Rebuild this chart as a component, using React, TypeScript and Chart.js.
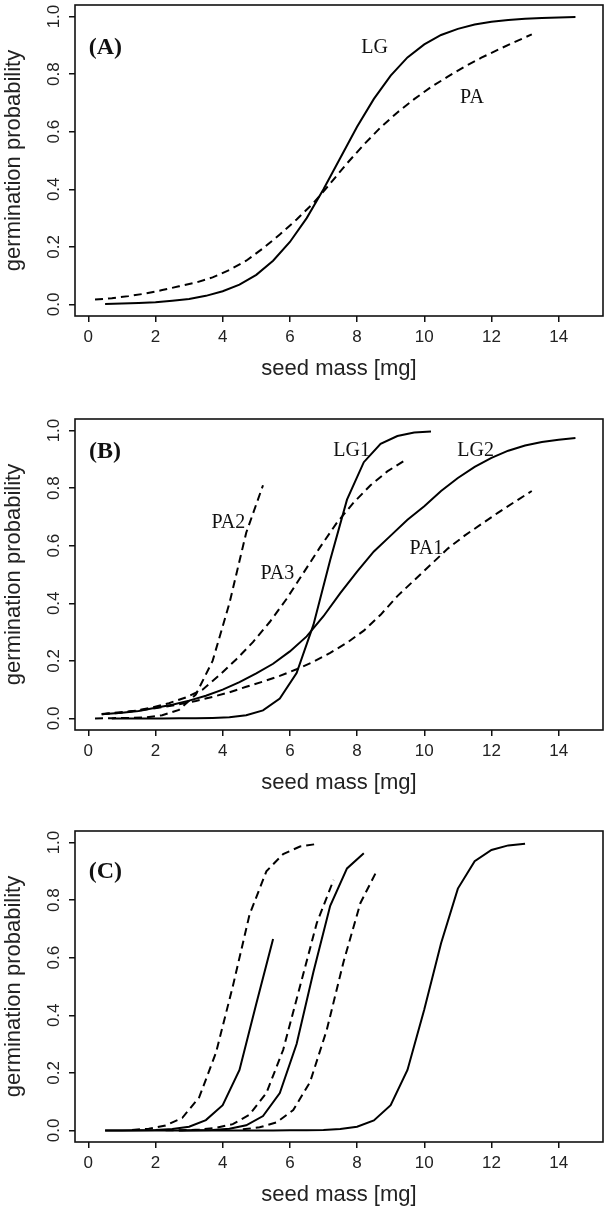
import React, { useEffect, useRef } from 'react';
import { Chart, registerables } from 'chart.js';

Chart.register(...registerables);

// ---------- axes ----------
const X_TICKS = [0, 2, 4, 6, 8, 10, 12, 14];
const Y_TICKS = [0, 0.2, 0.4, 0.6, 0.8, 1.0];
const X_MIN = -0.396;
const X_MAX = 15.32;
const Y_MIN = -0.04;
const Y_MAX = 1.04;
const X_TITLE = 'seed mass [mg]';
const Y_TITLE = 'germination probability';

// ---------- panel A ----------
const A_LG_X = [0.5, 1, 1.5, 2, 2.5, 3, 3.5, 4, 4.5, 5, 5.5, 6, 6.5, 7, 7.5, 8, 8.5, 9, 9.5, 10, 10.5, 11, 11.5, 12, 12.5, 13, 13.5, 14, 14.5];
const A_LG_Y = [0.002, 0.003, 0.005, 0.008, 0.013, 0.019, 0.03, 0.046, 0.069, 0.103, 0.152, 0.217, 0.3, 0.4, 0.509, 0.617, 0.714, 0.795, 0.858, 0.903, 0.936, 0.957, 0.972, 0.982, 0.988, 0.992, 0.995, 0.997, 0.998];
const A_PA_X = [0.2, 0.7, 1.2, 1.7, 2.2, 2.7, 3.2, 3.7, 4.2, 4.7, 5.2, 5.7, 6.2, 6.7, 7.2, 7.7, 8.2, 8.7, 9.2, 9.7, 10.2, 10.7, 11.2, 11.7, 12.2, 12.7, 13.2];
const A_PA_Y = [0.017, 0.022, 0.029, 0.038, 0.05, 0.063, 0.076, 0.094, 0.12, 0.152, 0.195, 0.243, 0.295, 0.352, 0.42, 0.49, 0.555, 0.615, 0.667, 0.713, 0.755, 0.791, 0.826, 0.857, 0.885, 0.912, 0.938];
const A_LABEL_TEXT = ['LG', 'PA'];
const A_LABEL_X = [8.52, 11.42];
const A_LABEL_Y = [0.892, 0.718];

// ---------- panel B ----------
const B_LG1_X = [0.7, 1.2, 1.7, 2.2, 2.7, 3.2, 3.7, 4.2, 4.7, 5.2, 5.7, 6.2, 6.7, 7.2, 7.7, 8.2, 8.7, 9.2, 9.7, 10.2];
const B_LG1_Y = [0, 0, 0, 0, 0.001, 0.001, 0.002, 0.004, 0.011, 0.028, 0.069, 0.158, 0.325, 0.55, 0.76, 0.89, 0.954, 0.981, 0.993, 0.997];
const B_LG2_X = [0.4, 1, 1.5, 2, 2.5, 3, 3.5, 4, 4.5, 5, 5.5, 6, 6.5, 7, 7.5, 8, 8.5, 9, 9.5, 10, 10.5, 11, 11.5, 12, 12.5, 13, 13.5, 14, 14.5];
const B_LG2_Y = [0.015, 0.02, 0.026, 0.037, 0.048, 0.062, 0.079, 0.1, 0.126, 0.157, 0.19, 0.233, 0.285, 0.355, 0.435, 0.51, 0.58, 0.635, 0.69, 0.737, 0.79, 0.835, 0.874, 0.905, 0.93, 0.948, 0.96, 0.968, 0.974];
const B_PA1_X = [0.4, 0.7, 1.2, 1.7, 2.2, 2.7, 3.2, 3.7, 4.2, 4.7, 5.2, 5.7, 6.2, 6.7, 7.2, 7.7, 8.2, 8.7, 9.2, 9.7, 10.2, 10.7, 11.2, 11.7, 12.2, 12.7, 13.2];
const B_PA1_Y = [0.016, 0.019, 0.024, 0.031, 0.039, 0.049, 0.061, 0.075, 0.091, 0.11, 0.128, 0.148, 0.171, 0.197, 0.228, 0.263, 0.305, 0.36, 0.425, 0.48, 0.535, 0.59, 0.635, 0.675, 0.715, 0.753, 0.79];
const B_PA2_X = [0.2, 0.7, 1.2, 1.7, 2.2, 2.7, 3.2, 3.7, 4.2, 4.7, 5.2];
const B_PA2_Y = [0, 0.001, 0.002, 0.004, 0.011, 0.03, 0.083, 0.2, 0.4, 0.645, 0.81];
const B_PA3_X = [0.4, 0.9, 1.4, 1.9, 2.4, 2.9, 3.4, 3.9, 4.4, 4.9, 5.4, 5.9, 6.4, 6.9, 7.4, 7.9, 8.4, 8.9, 9.4];
const B_PA3_Y = [0.015, 0.019, 0.027, 0.038, 0.053, 0.073, 0.1, 0.15, 0.205, 0.265, 0.335, 0.415, 0.505, 0.595, 0.68, 0.75, 0.81, 0.858, 0.895];
const B_LABEL_TEXT = ['PA2', 'PA3', 'LG1', 'LG2', 'PA1'];
const B_LABEL_X = [4.17, 5.63, 7.84, 11.53, 10.06];
const B_LABEL_Y = [0.678, 0.504, 0.93, 0.93, 0.591];

// ---------- panel C ----------
const C1_X = [1.3, 1.8, 2.3, 2.8, 3.3, 3.8, 4.3, 4.8, 5.3, 5.8, 6.3, 6.8];
const C1_Y = [0.002, 0.006, 0.017, 0.044, 0.115, 0.27, 0.5, 0.75, 0.9, 0.96, 0.986, 0.995];
const C2_X = [0.5, 1, 1.5, 2, 2.5, 3, 3.5, 4, 4.5, 5, 5.5];
const C2_Y = [0, 0, 0.001, 0.002, 0.005, 0.013, 0.036, 0.088, 0.21, 0.44, 0.665];
const C3_X = [2.3, 2.8, 3.3, 3.8, 4.3, 4.8, 5.3, 5.8, 6.3, 6.8, 7.3];
const C3_Y = [0.001, 0.001, 0.003, 0.009, 0.022, 0.055, 0.13, 0.28, 0.5, 0.72, 0.87];
const C4_X = [2.7, 3.2, 3.7, 4.2, 4.7, 5.2, 5.7, 6.2, 6.7, 7.2, 7.7, 8.2];
const C4_Y = [0, 0.001, 0.002, 0.006, 0.018, 0.05, 0.13, 0.3, 0.55, 0.78, 0.91, 0.963];
const C5_X = [4.6, 5.1, 5.6, 6.1, 6.6, 7.1, 7.6, 8.1, 8.6];
const C5_Y = [0.004, 0.011, 0.028, 0.071, 0.168, 0.35, 0.587, 0.79, 0.905];
const C6_X = [0.5, 1, 1.5, 2, 2.5, 3, 3.5, 4, 4.5, 5, 5.5, 6, 6.5, 7, 7.5, 8, 8.5, 9, 9.5, 10, 10.5, 11, 11.5, 12, 12.5, 13];
const C6_Y = [0, 0, 0, 0, 0, 0, 0, 0, 0, 0, 0, 0.001, 0.001, 0.002, 0.005, 0.013, 0.035, 0.088, 0.21, 0.42, 0.65, 0.84, 0.935, 0.974, 0.99, 0.996];

// ---------- panel tags ----------
const TAG_TEXT = ['(A)', '(B)', '(C)'];
const TAG_X = [0.51, 0.5, 0.51];
const TAG_Y = [0.891, 0.925, 0.897];

type Series = { x: number[]; y: number[]; dashed: boolean };
type Label = { text: string; x: number; y: number };

const SANS = '"Liberation Sans", Arial, Helvetica, sans-serif';
const SERIF = '"Liberation Serif", "Times New Roman", serif';
const INK = '#111';

function makeLabels(t: string[], xs: number[], ys: number[]): Label[] {
  return t.map((text, i) => ({ text, x: xs[i], y: ys[i] }));
}

const PANELS: { top: number; series: Series[]; labels: Label[]; tag: Label }[] = [
  {
    top: 0,
    series: [
      { x: A_LG_X, y: A_LG_Y, dashed: false },
      { x: A_PA_X, y: A_PA_Y, dashed: true },
    ],
    labels: makeLabels(A_LABEL_TEXT, A_LABEL_X, A_LABEL_Y),
    tag: { text: TAG_TEXT[0], x: TAG_X[0], y: TAG_Y[0] },
  },
  {
    top: 414,
    series: [
      { x: B_LG1_X, y: B_LG1_Y, dashed: false },
      { x: B_LG2_X, y: B_LG2_Y, dashed: false },
      { x: B_PA1_X, y: B_PA1_Y, dashed: true },
      { x: B_PA2_X, y: B_PA2_Y, dashed: true },
      { x: B_PA3_X, y: B_PA3_Y, dashed: true },
    ],
    labels: makeLabels(B_LABEL_TEXT, B_LABEL_X, B_LABEL_Y),
    tag: { text: TAG_TEXT[1], x: TAG_X[1], y: TAG_Y[1] },
  },
  {
    top: 826,
    series: [
      { x: C1_X, y: C1_Y, dashed: true },
      { x: C2_X, y: C2_Y, dashed: false },
      { x: C3_X, y: C3_Y, dashed: true },
      { x: C4_X, y: C4_Y, dashed: false },
      { x: C5_X, y: C5_Y, dashed: true },
      { x: C6_X, y: C6_Y, dashed: false },
    ],
    labels: [],
    tag: { text: TAG_TEXT[2], x: TAG_X[2], y: TAG_Y[2] },
  },
];

function overlayPlugin(labels: Label[], tag: Label) {
  return {
    id: 'overlay',
    afterDatasetsDraw(chart: any) {
      const { ctx, chartArea: a, scales } = chart;
      const xs = scales.x;
      const ys = scales.y;
      ctx.save();
      ctx.strokeStyle = INK;
      ctx.lineWidth = 1.6;
      ctx.strokeRect(a.left, a.top, a.right - a.left, a.bottom - a.top);
      ctx.fillStyle = INK;
      ctx.textAlign = 'center';
      ctx.textBaseline = 'middle';
      ctx.font = `bold 24px ${SERIF}`;
      ctx.fillText(tag.text, xs.getPixelForValue(tag.x), ys.getPixelForValue(tag.y));
      ctx.font = `20px ${SERIF}`;
      labels.forEach((l) => ctx.fillText(l.text, xs.getPixelForValue(l.x), ys.getPixelForValue(l.y)));
      ctx.restore();
    },
  };
}

function Panel({ top, series, labels, tag }: { top: number; series: Series[]; labels: Label[]; tag: Label }) {
  const ref = useRef<HTMLCanvasElement>(null);
  useEffect(() => {
    const chart = new Chart(ref.current as HTMLCanvasElement, {
      type: 'line',
      data: {
        datasets: series.map((s) => ({
          data: s.x.map((x, i) => ({ x, y: s.y[i] })),
          borderColor: '#000',
          borderWidth: 2,
          borderDash: s.dashed ? [8, 5] : [],
          pointRadius: 0,
          fill: false,
          tension: 0,
        })),
      },
      options: {
        responsive: false,
        animation: false,
        devicePixelRatio: 1,
        layout: { padding: { top: 5, right: 1, left: 0, bottom: 0 } },
        plugins: { legend: { display: false }, tooltip: { enabled: false } },
        scales: {
          x: {
            type: 'linear',
            min: X_MIN,
            max: X_MAX,
            afterBuildTicks: (s: any) => {
              s.ticks = X_TICKS.map((v) => ({ value: v }));
            },
            afterFit: (s: any) => {
              s.height = 66;
              s.paddingLeft = 0;
              s.paddingRight = 0;
            },
            grid: { drawOnChartArea: false, drawTicks: true, tickLength: 6, color: INK, lineWidth: 1.5 },
            border: { display: false },
            ticks: {
              autoSkip: false,
              maxRotation: 0,
              minRotation: 0,
              padding: 5,
              color: '#222',
              font: { family: SANS, size: 17 },
              callback: (v: any) => String(v),
            },
            title: {
              display: true,
              text: X_TITLE,
              color: '#222',
              font: { family: SANS, size: 22 },
              padding: { top: 0, bottom: 0 },
            },
          },
          y: {
            type: 'linear',
            min: Y_MIN,
            max: Y_MAX,
            afterBuildTicks: (s: any) => {
              s.ticks = Y_TICKS.map((v) => ({ value: v }));
            },
            afterFit: (s: any) => {
              s.width = 75;
              s.paddingTop = 0;
              s.paddingBottom = 0;
            },
            grid: { drawOnChartArea: false, drawTicks: true, tickLength: 6, color: INK, lineWidth: 1.5 },
            border: { display: false },
            ticks: {
              autoSkip: false,
              minRotation: 90,
              maxRotation: 90,
              crossAlign: 'center',
              padding: 3,
              color: '#222',
              font: { family: SANS, size: 17 },
              callback: (v: any) => Number(v).toFixed(1),
            },
            title: {
              display: true,
              text: Y_TITLE,
              color: '#222',
              font: { family: SANS, size: 22 },
              padding: { top: 1, bottom: 0 },
            },
          },
        },
      } as any,
      plugins: [overlayPlugin(labels, tag)],
    });
    return () => chart.destroy();
  }, []);
  return (
    <canvas
      ref={ref}
      width={604}
      height={382}
      style={{ position: 'absolute', left: 0, top, display: 'block', width: 604, height: 382 }}
    />
  );
}

export default function App() {
  return (
    <div style={{ position: 'absolute', left: 0, top: 0, width: 604, height: 1208, background: '#fff' }}>
      {PANELS.map((p, i) => (
        <Panel key={i} top={p.top} series={p.series} labels={p.labels} tag={p.tag} />
      ))}
    </div>
  );
}
